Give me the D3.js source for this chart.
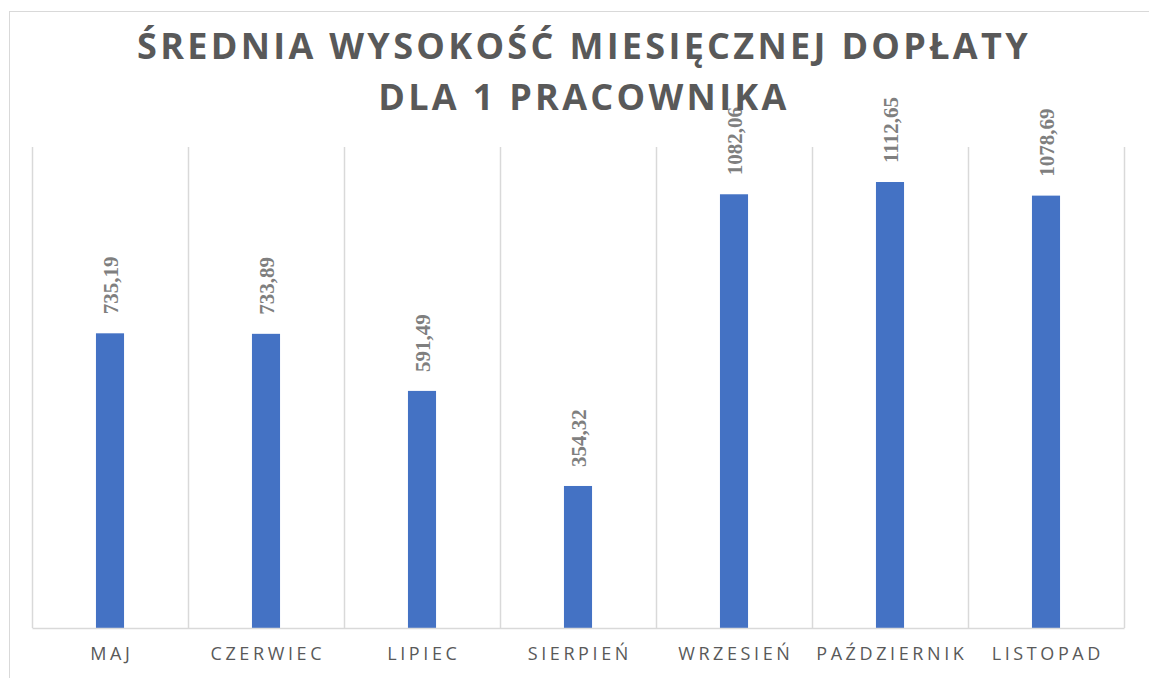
<!DOCTYPE html>
<html>
<head>
<meta charset="utf-8">
<script src="https://cdn.jsdelivr.net/npm/d3@7"></script>
<style>
  body { margin: 0; background: #fff; }
  .title { font-family: "Open Sans", sans-serif; font-weight: bold; font-size: 36px; fill: #595959; letter-spacing: 3.3px; }
  .cat { font-family: "Open Sans", sans-serif; font-size: 18px; fill: #595959; letter-spacing: 3.6px; }
  .lbl { font-family: "Liberation Serif", "Times New Roman", serif; font-weight: bold; font-size: 21px; fill: #7f7f7f; }
</style>
</head>
<body>
<div id="chart"></div>
<script>
// dane
const months = ["MAJ", "CZERWIEC", "LIPIEC", "SIERPIEŃ", "WRZESIEŃ", "PAŹDZIERNIK", "LISTOPAD"];
const values = [735.19, 733.89, 591.49, 354.32, 1082.06, 1112.65, 1078.69];
const valueLabels = ["735,19", "733,89", "591,49", "354,32", "1082,06", "1112,65", "1078,69"];
const titleLines = ["ŚREDNIA WYSOKOŚĆ MIESIĘCZNEJ DOPŁATY", "DLA 1 PRACOWNIKA"];

const W = 1149, H = 678;
const plot = { left: 32, right: 1124, top: 147, bottom: 628 };

const svg = d3.select("#chart").append("svg")
  .attr("width", W)
  .attr("height", H);

// ramka wykresu
svg.append("rect")
  .attr("x", 9.5).attr("y", 11.5)
  .attr("width", W + 20).attr("height", H + 20)
  .attr("fill", "#fff")
  .attr("stroke", "#d9d9d9");

const x = d3.scaleBand().domain(months).range([plot.left, plot.right]).padding(0);
const y = d3.scaleLinear().domain([0, 1200]).range([plot.bottom, plot.top]);
const barW = x.bandwidth() * 0.18;

// pionowe linie siatki (granice kategorii)
const edges = months.map(m => x(m)).concat([plot.right]);
svg.append("g").selectAll("line")
  .data(edges)
  .enter().append("line")
  .attr("x1", d => Math.round(d) + 0.5).attr("x2", d => Math.round(d) + 0.5)
  .attr("y1", plot.top).attr("y2", plot.bottom)
  .attr("stroke", "#d9d9d9").attr("stroke-width", 1.5);

// słupki
svg.append("g").selectAll("rect")
  .data(values)
  .enter().append("rect")
  .attr("x", (d, i) => x(months[i]) + x.bandwidth() / 2 - barW / 2)
  .attr("y", d => y(d))
  .attr("width", barW)
  .attr("height", d => y(0) - y(d))
  .attr("fill", "#4472c4");

// oś X
const xAxis = svg.append("g")
  .attr("transform", `translate(0,${plot.bottom})`)
  .call(d3.axisBottom(x).tickSize(0).tickPadding(20));
xAxis.select(".domain").attr("stroke", "#d9d9d9").attr("stroke-width", 1.5);
xAxis.selectAll("text").attr("class", "cat").attr("fill", null).attr("dy", "0.68em").attr("dx", "1.8px");

// etykiety wartości
svg.append("g").selectAll("text")
  .data(values)
  .enter().append("text")
  .attr("class", "lbl")
  .attr("transform", (d, i) => `translate(${x(months[i]) + x.bandwidth() / 2 + 7.5},${y(d) - 19}) rotate(-90)`)
  .attr("text-anchor", "start")
  .text((d, i) => valueLabels[i]);

// tytuł
svg.append("g").selectAll("text")
  .data(titleLines)
  .enter().append("text")
  .attr("class", "title")
  .attr("x", 584)
  .attr("y", (d, i) => 59 + i * 51)
  .attr("text-anchor", "middle")
  .text(d => d);
</script>
</body>
</html>
